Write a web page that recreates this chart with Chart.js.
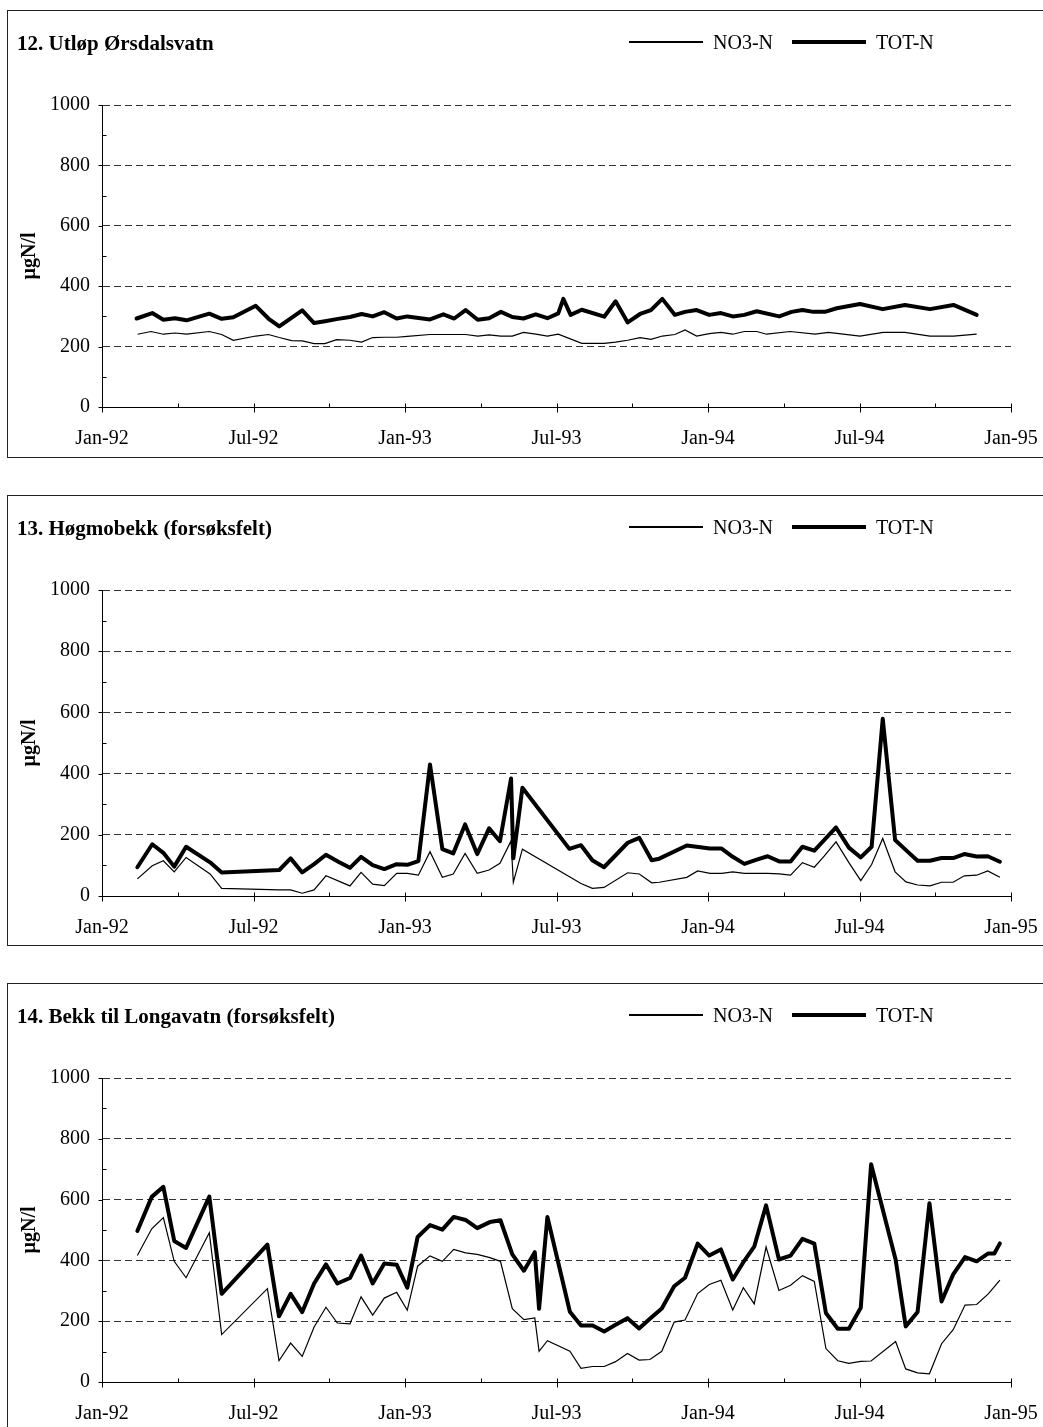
<!DOCTYPE html>
<html lang="no">
<head>
<meta charset="UTF-8">
<title>NO3-N og TOT-N</title>
<style>
  body { margin: 0; background: #fff; overflow: hidden; font-family: "Liberation Serif", "Times New Roman", serif; color: #000; }
  .panel { position: absolute; left: 7px; width: 1045px; border: 1px solid #222; box-sizing: border-box; background: #fff; }
  .panel canvas { position: absolute; left: 0; top: 0; }
  .title { position: absolute; left: 9px; top: 20px; font-weight: bold; font-size: 21px; line-height: 24px; white-space: nowrap; }
  .legend { position: absolute; left: 621px; top: 19px; display: flex; align-items: center; font-size: 20px; line-height: 24px; }
  .legend .item { display: flex; align-items: center; margin-right: 19px; }
  .legend .swatch { width: 74px; background: #000; margin-right: 10px; }
</style>
<script src="https://cdn.jsdelivr.net/npm/chart.js"></script>
</head>
<body>
<div id="charts"></div>
<script>
// x values are months after 1 Jan 1992
const xTickLabels = ['Jan-92', 'Jul-92', 'Jan-93', 'Jul-93', 'Jan-94', 'Jul-94', 'Jan-95'];
const seriesNames = ['NO3-N', 'TOT-N'];
const seriesWidths = [1.2, 4];
const yTitle = 'µgN/l';
const titles = ['12. Utløp Ørsdalsvatn', '13. Høgmobekk (forsøksfelt)', '14. Bekk til Longavatn (forsøksfelt)'];

// 12. Utløp Ørsdalsvatn
const no3Dates12 = [1.41,1.94,2.43,2.89,3.35,4.25,4.74,5.2,6.09,6.59,7.02,7.51,7.93,8.40,8.83,9.29,9.82,10.28,10.72,11.18,11.67,12.09,12.99,13.52,13.95,14.40,14.88,15.33,15.80,16.25,16.69,17.18,17.64,18.07,19.0,19.89,20.34,20.82,21.31,21.74,22.19,22.69,23.09,23.55,24.05,24.51,24.98,25.44,25.93,26.32,27.25,28.24,28.77,30.02,30.94,31.80,32.79,33.72,34.64];
const no3Values12 = [241,250,241,245,241,250,240,221,235,240,230,220,219,210,210,223,221,215,230,231,231,234,240,240,240,240,235,239,235,235,247,241,235,241,211,211,215,221,230,224,235,240,255,235,243,247,241,250,250,241,250,241,247,235,247,247,235,235,241];
const totDates12 = [1.37,1.99,2.43,2.89,3.35,4.25,4.74,5.2,6.09,6.59,7.02,7.93,8.40,8.83,9.29,9.82,10.28,10.72,11.18,11.67,12.09,12.99,13.52,13.95,14.40,14.88,15.33,15.80,16.25,16.69,17.18,17.64,18.07,18.27,18.56,19.0,19.89,20.34,20.82,21.31,21.74,22.19,22.69,23.09,23.55,24.05,24.51,24.98,25.44,25.93,26.82,27.31,27.74,28.17,28.63,29.1,30.02,30.92,31.80,32.79,33.72,34.64];
const totValues12 = [293,311,289,294,287,309,292,297,335,293,267,320,278,284,291,298,308,300,314,293,300,290,307,293,321,289,294,315,298,293,307,294,310,358,305,322,299,350,280,308,321,358,305,315,321,305,311,300,305,317,300,315,321,315,315,327,341,324,338,324,338,305];

// 13. Høgmobekk
const no3Dates13 = [1.40,1.99,2.43,2.86,3.33,4.28,4.74,7.02,7.47,7.93,8.40,8.87,9.82,10.26,10.72,11.18,11.67,12.09,12.53,12.99,13.48,13.91,14.38,14.86,15.33,15.76,16.20,16.29,16.65,18.97,19.42,19.88,20.82,21.28,21.77,22.07,23.16,23.59,24.08,24.54,24.98,25.44,25.90,26.36,26.82,27.27,27.74,28.21,28.61,29.07,29.58,30.05,30.48,30.92,31.41,31.84,32.30,32.79,33.25,33.71,34.15,34.64,35.08,35.56];
const no3Values13 = [56,99,115,79,126,72,25,20,20,9,20,66,33,77,39,34,74,74,68,145,61,72,139,74,85,107,180,45,153,41,25,28,76,72,43,45,61,82,74,74,79,74,74,74,72,68,109,94,131,177,109,50,103,188,79,46,36,33,45,45,66,68,82,61];
const totDates13 = [1.40,1.99,2.43,2.86,3.33,4.28,4.74,7.02,7.47,7.93,8.40,8.87,9.36,9.82,10.26,10.72,11.18,11.67,12.09,12.53,12.99,13.48,13.91,14.38,14.86,15.33,15.76,16.20,16.29,16.65,18.51,18.97,19.42,19.88,20.82,21.28,21.77,22.07,23.16,24.08,24.54,24.98,25.44,25.90,26.36,26.82,27.27,27.74,28.21,29.07,29.58,30.05,30.48,30.92,31.41,31.84,32.30,32.79,33.25,33.71,34.15,34.64,35.08,35.56];
const totValues13 = [94,169,141,96,161,110,77,85,123,77,104,135,112,92,128,101,88,104,102,114,430,153,139,234,137,221,179,384,123,354,154,166,117,94,174,190,117,122,165,155,155,128,105,118,130,113,113,161,148,224,158,126,161,579,183,150,115,115,124,124,137,129,130,112];

// 14. Bekk til Longavatn
const no3Dates14 = [1.40,1.97,2.43,2.86,3.33,4.25,4.74,6.55,7.01,7.47,7.93,8.40,8.87,9.32,9.82,10.26,10.72,11.18,11.67,12.09,12.50,12.99,13.48,13.93,14.40,14.86,15.36,15.78,16.25,16.71,17.14,17.31,17.64,18.53,18.97,19.43,19.89,20.34,20.81,21.27,21.70,22.17,22.66,23.09,23.59,24.05,24.51,24.98,25.40,25.83,26.30,26.81,27.27,27.74,28.21,28.67,29.14,29.58,30.05,30.46,31.43,31.83,32.30,32.77,33.25,33.71,34.18,34.64,35.10,35.56];
const no3Values14 = [416,504,541,397,343,491,156,307,70,128,84,181,246,194,191,280,220,276,295,236,381,415,397,436,425,420,409,397,241,205,211,101,136,101,45,51,51,67,94,72,74,101,197,204,291,321,335,237,310,257,444,301,318,350,331,110,70,61,68,69,133,43,30,27,126,172,253,255,290,335];
const totDates14 = [1.40,1.97,2.43,2.86,3.33,4.25,4.74,6.55,7.01,7.47,7.93,8.40,8.87,9.32,9.82,10.26,10.72,11.18,11.67,12.09,12.50,12.99,13.48,13.93,14.40,14.86,15.36,15.78,16.25,16.71,17.14,17.31,17.64,18.53,18.97,19.43,19.89,20.34,20.81,21.27,21.70,22.17,22.66,23.09,23.59,24.05,24.51,24.98,25.40,25.83,26.30,26.81,27.27,27.74,28.21,28.67,29.14,29.58,30.05,30.46,31.43,31.83,32.30,32.77,33.25,33.71,34.18,34.64,35.10,35.34,35.56];
const totValues14 = [497,609,642,464,441,610,290,452,216,290,230,324,387,324,342,416,324,390,386,310,477,516,501,543,533,506,526,532,420,366,427,241,543,231,186,186,166,188,210,176,208,242,315,343,455,416,436,337,394,445,581,403,416,471,455,227,175,175,244,716,403,183,230,588,265,354,411,397,423,423,456];

// box placement on the page (px)
const layouts = [
  { top: 10, height: 448, plotBottom: 396 },
  { top: 495, height: 451, plotBottom: 400 },
  { top: 983, height: 450, plotBottom: 398 }
];
const canvasWidth = 1035;
const plotTop = 94;
const plotRightPad = 32;
const yAxisWidth = 94;
const fontFamily = "'Liberation Serif', 'Times New Roman', serif";

Chart.defaults.font.family = fontFamily;
Chart.defaults.color = '#000';

function toPoints(dates, values) {
    return dates.map((d, i) => ({ x: d, y: values[i] }));
}

// Excel style tick marks: major Jan/Jul crossing, quarters inside; y major outside, minor inside
const tickMarks = {
    id: 'tickMarks',
    afterDraw(chart) {
        const { ctx, scales: { x, y } } = chart;
        const yb = Math.round(y.getPixelForValue(0)) + 0.5;
        const xl = Math.round(x.getPixelForValue(0)) + 0.5;
        ctx.save();
        ctx.strokeStyle = '#000';
        ctx.lineWidth = 1;
        ctx.beginPath();
        for (let m = 0; m <= 36; m += 3) {
            const px = Math.round(x.getPixelForValue(m)) + 0.5;
            ctx.moveTo(px, yb - 4);
            ctx.lineTo(px, m % 6 === 0 ? yb + 5 : yb);
        }
        for (let v = 0; v <= 1000; v += 100) {
            const py = Math.round(y.getPixelForValue(v)) + 0.5;
            if (v % 200 === 0) {
                ctx.moveTo(xl - 4, py); ctx.lineTo(xl, py);
            } else {
                ctx.moveTo(xl, py); ctx.lineTo(xl + 4, py);
            }
        }
        ctx.stroke();
        ctx.restore();
    }
};

function makePanel(i, no3Dates, no3Values, totDates, totValues) {
    const lay = layouts[i];
    const box = document.createElement('div');
    box.className = 'panel';
    box.style.top = lay.top + 'px';
    box.style.height = lay.height + 'px';

    const canvas = document.createElement('canvas');
    canvas.width = canvasWidth;
    canvas.height = lay.height - 2;
    box.appendChild(canvas);

    const title = document.createElement('div');
    title.className = 'title';
    title.textContent = titles[i];
    box.appendChild(title);

    const legend = document.createElement('div');
    legend.className = 'legend';
    seriesNames.forEach((name, k) => {
        const item = document.createElement('div');
        item.className = 'item';
        const sw = document.createElement('span');
        sw.className = 'swatch';
        sw.style.height = seriesWidths[k] + 'px';
        const txt = document.createElement('span');
        txt.textContent = name;
        item.appendChild(sw);
        item.appendChild(txt);
        legend.appendChild(item);
    });
    box.appendChild(legend);
    document.getElementById('charts').appendChild(box);

    new Chart(canvas, {
        type: 'line',
        data: {
            datasets: [
                {
                    label: seriesNames[0],
                    data: toPoints(no3Dates, no3Values),
                    borderColor: '#000',
                    borderWidth: seriesWidths[0],
                    pointRadius: 0,
                    tension: 0,
                    fill: false
                },
                {
                    label: seriesNames[1],
                    data: toPoints(totDates, totValues),
                    borderColor: '#000',
                    borderWidth: seriesWidths[1],
                    borderJoinStyle: 'round',
                    borderCapStyle: 'round',
                    pointRadius: 0,
                    tension: 0,
                    fill: false
                }
            ]
        },
        options: {
            responsive: false,
            animation: false,
            events: [],
            layout: { padding: { left: 0, right: plotRightPad, top: plotTop, bottom: 0 } },
            plugins: { legend: { display: false }, tooltip: { enabled: false } },
            scales: {
                x: {
                    type: 'linear',
                    min: 0,
                    max: 36,
                    afterFit: s => {
                        s.height = lay.height - 2 - lay.plotBottom;
                        s.paddingLeft = 0;
                        s.paddingRight = 0;
                    },
                    grid: { display: false, drawTicks: false },
                    border: { display: true, color: '#000', width: 1 },
                    ticks: {
                        stepSize: 6,
                        autoSkip: false,
                        maxRotation: 0,
                        padding: 20,
                        color: '#000',
                        font: { size: 20 },
                        callback: v => xTickLabels[Math.round(v / 6)]
                    }
                },
                y: {
                    min: 0,
                    max: 1000,
                    afterFit: s => { s.width = yAxisWidth; },
                    grid: {
                        color: c => (c.tick && c.tick.value === 0) ? 'rgba(0,0,0,0)' : '#333',
                        lineWidth: 1,
                        drawTicks: false
                    },
                    border: { display: true, color: '#000', width: 1, dash: [7, 4] },
                    ticks: {
                        stepSize: 200,
                        padding: 12,
                        color: '#000',
                        font: { size: 20 },
                        callback: v => String(v)
                    },
                    title: {
                        display: true,
                        text: yTitle,
                        color: '#000',
                        font: { size: 20, weight: 'bold' },
                        padding: { top: 10, bottom: 0 }
                    }
                }
            }
        },
        plugins: [tickMarks]
    });
}

makePanel(0, no3Dates12, no3Values12, totDates12, totValues12);
makePanel(1, no3Dates13, no3Values13, totDates13, totValues13);
makePanel(2, no3Dates14, no3Values14, totDates14, totValues14);
</script>
</body>
</html>
